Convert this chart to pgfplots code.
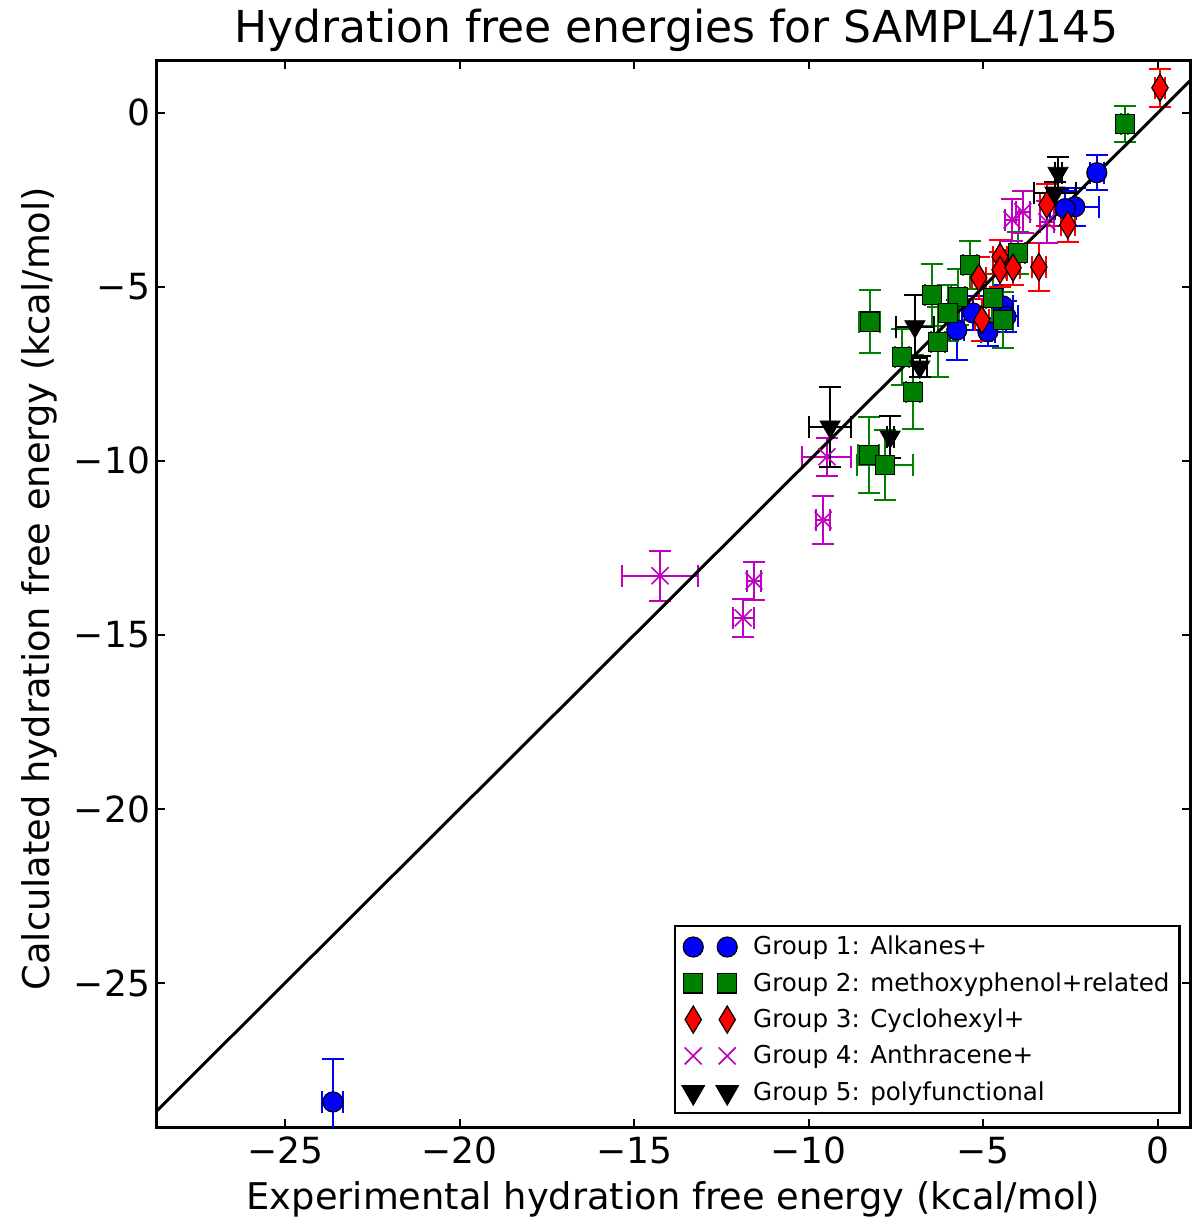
\documentclass[border=0pt]{standalone}
\usepackage{pgfplots}
\usepackage{pgfplotstable}
\pgfplotsset{compat=1.18}
\usepackage{fontspec}
\setmainfont{DejaVu Sans}
\definecolor{mplgreen}{rgb}{0,0.5,0}
\definecolor{mplmag}{rgb}{0.75,0,0.75}

\pgfplotstableread{
x y ex ey
-23.63 -28.42 0.30 1.24
-1.75 -1.72 0.20 0.50
-2.38 -2.70 0.70 0.55
-2.65 -2.75 0.30 0.50
-5.76 -6.24 0.20 0.85
-4.87 -6.29 0.20 0.40
-5.30 -5.75 0.30 0.50
-4.44 -5.55 0.30 0.60
-4.35 -5.85 0.35 0.45
}\groupone

\pgfplotstableread{
x y ex ey
-0.95 -0.32 0.10 0.52
-8.25 -6.00 0.30 0.90
-6.47 -5.23 0.20 0.90
-5.73 -5.29 0.20 0.80
-5.38 -4.37 0.20 0.70
-4.01 -4.02 0.20 0.60
-6.01 -5.75 0.30 0.80
-4.73 -5.32 0.20 0.70
-4.44 -5.95 0.30 0.80
-6.30 -6.58 0.20 1.00
-7.33 -7.01 0.20 0.80
-7.02 -8.02 0.20 1.05
-8.28 -9.83 0.30 1.10
-7.82 -10.11 0.80 1.00
}\grouptwo

\pgfplotstableread{
x y ex ey
0.06 0.72 0.15 0.55
-3.18 -2.64 0.20 0.60
-2.58 -3.22 0.20 0.50
-4.52 -4.14 0.20 0.50
-4.52 -4.51 0.20 0.50
-4.15 -4.45 0.20 0.50
-3.41 -4.43 0.20 0.70
-5.13 -4.74 0.20 0.60
-5.04 -5.95 0.20 0.60
}\groupthree

\pgfplotstableread{
x y ex ey
-4.18 -3.07 0.20 0.60
-3.87 -2.84 0.20 0.60
-3.18 -3.13 0.20 0.60
-9.48 -9.88 0.70 0.55
-9.59 -11.70 0.20 0.70
-14.26 -13.30 1.09 0.72
-11.57 -13.45 0.20 0.55
-11.88 -14.51 0.30 0.55
}\groupfour

\pgfplotstableread{
x y ex ey
-2.86 -1.73 0.10 0.45
-2.95 -2.30 0.60 0.30
-6.96 -6.14 0.55 0.90
-6.82 -7.30 0.20 0.30
-9.39 -9.02 0.60 1.15
-7.67 -9.31 0.10 0.60
}\groupfive

\pgfplotsset{eb/.style={
  error bars/x dir=both, error bars/x explicit,
  error bars/y dir=both, error bars/y explicit,
  error bars/error bar style={line width=1pt},
  error bars/error mark options={rotate=90, mark size=5.5pt, line width=1pt}}}

\begin{document}
\begin{tikzpicture}
\begin{axis}[
  scale only axis,
  width=516.5pt, height=533pt,
  xmin=-28.67, xmax=0.92,
  ymin=-29.14, ymax=1.49,
  axis line style={line width=1.5pt},
  every tick/.style={black, line width=1pt},
  major tick length=4pt,
  xtick={-25,-20,-15,-10,-5,0},
  xticklabels={−25,−20,−15,−10,−5,0},
  ytick={-25,-20,-15,-10,-5,0},
  yticklabels={−25,−20,−15,−10,−5,0},
  ticklabel style={font=\fontsize{18}{20}\selectfont},
  xticklabel style={yshift=-1.5pt},
  xlabel={Experimental hydration free energy (kcal/mol)},
  ylabel={Calculated hydration free energy (kcal/mol)},
  label style={font=\fontsize{18.4}{21}\selectfont},
  xlabel style={at={(axis description cs:0.5,0)}, anchor=center, yshift=-36pt},
  ylabel style={at={(axis description cs:-0.1135,0.505)}, anchor=center},
  title={Hydration free energies for SAMPL4/145},
  title style={font=\fontsize{22}{25}\selectfont, at={(axis description cs:0.503,1)}, anchor=center, yshift=9.5pt},
  legend style={at={(axis description cs:0.991,0.012)}, anchor=south east,
    draw=black, line width=1.2pt, font=\fontsize{12.3}{14}\selectfont,
    row sep=3.3pt, inner sep=3pt},
  legend cell align=left,
  legend image code/.code={\path (-5.5pt,0pt) (27.4pt,0pt);\draw[#1,only marks] plot coordinates {(0pt,0pt) (17pt,0pt)};},
]
\addplot[blue, only marks, mark=*, mark size=5pt, mark options={fill=blue, draw=black, line width=0.6pt}, eb]
  table[x=x, y=y, x error=ex, y error=ey] {\groupone};
\addlegendentry{Group 1: Alkanes+}
\addplot[mplgreen, only marks, mark=square*, mark size=4.8pt, mark options={fill=mplgreen, draw=black, line width=0.6pt}, eb]
  table[x=x, y=y, x error=ex, y error=ey] {\grouptwo};
\addlegendentry{Group 2: methoxyphenol+related}
\addplot[red, only marks, mark=diamond*, mark size=6.8pt, mark options={fill=red, draw=black, line width=0.6pt, xscale=0.8}, eb]
  table[x=x, y=y, x error=ex, y error=ey] {\groupthree};
\addlegendentry{Group 3: Cyclohexyl+}
\addplot[mplmag, only marks, mark=x, mark size=6pt, mark options={line width=0.8pt}, eb]
  table[x=x, y=y, x error=ex, y error=ey] {\groupfour};
\addlegendentry{Group 4: Anthracene+}
\addplot[black, only marks, mark=triangle*, mark size=5.8pt, mark options={fill=black, draw=black, rotate=180}, eb]
  table[x=x, y=y, x error=ex, y error=ey] {\groupfive};
\addlegendentry{Group 5: polyfunctional}
\addplot[black, line width=1.5pt, no marks, forget plot]
  coordinates {(-28.67,-28.67) (0.92,0.92)};
\end{axis}
\pgfresetboundingbox
\path[use as bounding box] ([shift={(-78.5pt,-48pt)}]current axis.south west) rectangle ([shift={(1pt,30.5pt)}]current axis.north east);
\end{tikzpicture}
\end{document}
